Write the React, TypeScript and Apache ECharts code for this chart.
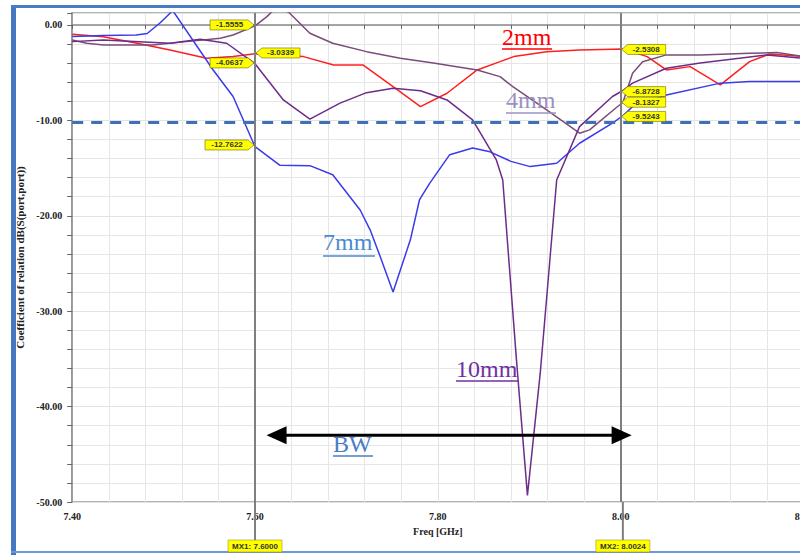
import React, { useEffect, useRef } from 'react';
import * as echarts from 'echarts';

// ---- axes ----
const X_MIN = 7.4;
const X_MAX = 8.2;
const Y_MIN = -50;
const Y_MAX = 1.25;
const THRESHOLD_DB = -10.2;
const MARKER_1 = 7.6;
const MARKER_2 = 8.0024;

// ---- 2mm ----
const FREQ_2MM = [7.4, 7.434, 7.471, 7.507, 7.547, 7.576, 7.6, 7.653, 7.686, 7.718, 7.751, 7.781, 7.81, 7.843, 7.868, 7.883, 7.919, 7.955, 8.0024, 8.029, 8.05, 8.076, 8.109, 8.141, 8.163, 8.2];
const DB_2MM = [-0.97, -1.23, -1.92, -2.62, -3.49, -3.32, -3.03, -3.32, -4.19, -4.19, -6.47, -8.56, -7.16, -4.72, -3.85, -3.32, -2.8, -2.62, -2.53, -3.32, -4.72, -4.37, -6.29, -3.85, -3.04, -3.32];

// ---- 4mm ----
const FREQ_4MM = [7.4, 7.416, 7.434, 7.488, 7.525, 7.562, 7.576, 7.6, 7.613, 7.625, 7.638, 7.66, 7.685, 7.722, 7.759, 7.795, 7.843, 7.868, 7.882, 7.919, 7.955, 7.966, 7.996, 8.0024, 8.013, 8.024, 8.05, 8.087, 8.141, 8.171, 8.2];
const DB_4MM = [-1.57, -1.92, -2.1, -2.1, -1.75, -1.39, -1.05, -0.1, 0.87, 2.0, 1.23, -0.87, -1.92, -2.8, -3.49, -4.0, -4.72, -5.42, -6.47, -8.91, -11.35, -11.0, -8.6, -8.13, -5.06, -3.85, -3.14, -3.14, -2.97, -2.9, -3.32];

// ---- 7mm ----
const FREQ_7MM = [7.4, 7.434, 7.47, 7.482, 7.496, 7.51, 7.554, 7.576, 7.6, 7.627, 7.66, 7.685, 7.715, 7.726, 7.737, 7.751, 7.77, 7.78, 7.791, 7.813, 7.838, 7.857, 7.88, 7.901, 7.93, 7.955, 7.991, 8.0024, 8.013, 8.05, 8.109, 8.141, 8.2];
const DB_7MM = [-1.2, -1.1, -1.05, -0.9, 0.2, 1.5, -4.7, -7.5, -12.76, -14.7, -14.75, -15.7, -19.4, -21.5, -24.3, -28.0, -22.5, -18.3, -16.6, -13.6, -12.9, -13.3, -14.3, -14.85, -14.5, -12.4, -10.3, -9.52, -8.56, -7.34, -6.1, -5.94, -5.94];

// ---- 10mm ----
const FREQ_10MM = [7.4, 7.434, 7.507, 7.54, 7.569, 7.6, 7.631, 7.66, 7.693, 7.722, 7.751, 7.781, 7.81, 7.838, 7.864, 7.871, 7.886, 7.898, 7.912, 7.93, 7.955, 7.991, 8.0024, 8.013, 8.05, 8.087, 8.16, 8.2];
const DB_10MM = [-1.75, -1.57, -1.92, -1.5, -1.92, -4.06, -7.86, -9.88, -8.2, -7.1, -6.64, -6.89, -7.86, -9.96, -14.15, -16.25, -35.1, -49.3, -36.5, -16.25, -10.66, -7.5, -6.87, -6.1, -4.54, -4.0, -3.14, -3.49];

// ---- marker tags: [freq, dB anchor, text, side] ----
const TAG_FREQ = [7.6, 7.6, 7.6, 7.6, 8.0, 8.0, 8.0, 8.0];
const TAG_DB = [0.0, -3.98, -12.58, -2.94, -2.57, -6.99, -8.1, -9.59];
const TAG_TEXT = ['-1.5555', '-4.0637', '-12.7622', '-3.0339', '-2.5308', '-6.8728', '-8.1327', '-9.5243'];
const TAG_SIDE = ['left', 'left', 'left', 'right', 'right', 'right', 'right', 'right'];
const MARKER_NAMES = ['MX1: 7.6000', 'MX2: 8.0024'];

// ---- curve names ----
const LABEL_TEXT = ['2mm', '4mm', '7mm', '10mm', 'BW'];
const BW_ARROW_FREQ = [7.6126, 8.012];
const BW_ARROW_DB = -43.0;

const C_2 = '#ff1f1f';
const C_4 = '#7a4c78';
const C_7 = '#3b3bea';
const C_10 = '#6e2c8a';

const zip = (xs: number[], ys: number[]) => xs.map((x, i) => [x, ys[i]]);

const SERIF = '"Liberation Serif", "Times New Roman", serif';

export default function App() {
  const ref = useRef<HTMLDivElement>(null);
  useEffect(() => {
    const chart = echarts.init(ref.current!, null, { renderer: 'svg' });
    const lineSeries = (name: string, xs: number[], ys: number[], color: string, extra: any = {}) => ({
      name,
      type: 'line',
      data: zip(xs, ys),
      showSymbol: false,
      symbol: 'none',
      lineStyle: { color, width: 1.5 },
      itemStyle: { color },
      clip: true,
      z: 3,
      ...extra,
    });
    chart.setOption({
      animation: false,
      backgroundColor: '#ffffff',
      grid: {
        left: 72.2,
        top: 13,
        width: 731.3,
        height: 489,
        containLabel: false,
        outerBoundsMode: 'none',
        show: true,
        borderColor: '#9a9a9a',
        borderWidth: 1.5,
        backgroundColor: 'transparent',
      },
      xAxis: {
        type: 'value',
        min: X_MIN,
        max: X_MAX,
        interval: 0.2,
        name: 'Freq [GHz]',
        nameLocation: 'middle',
        nameGap: 24,
        nameTextStyle: { fontFamily: SERIF, fontWeight: 'bold', fontSize: 10, color: '#222' },
        axisLine: { lineStyle: { color: '#8a8a8a', width: 1.5 } },
        axisTick: { show: true, length: 4, lineStyle: { color: '#666' } },
        minorTick: { show: true, splitNumber: 5, length: 4, lineStyle: { color: '#666' } },
        splitLine: { show: true, lineStyle: { color: '#e2e2e2', width: 1 } },
        minorSplitLine: { show: true, lineStyle: { color: '#e6e6e6', width: 1 } },
        axisLabel: {
          margin: 9,
          fontFamily: SERIF,
          fontWeight: 'bold',
          fontSize: 10,
          color: '#222',
          formatter: (v: number) => v.toFixed(2),
        },
      },
      yAxis: {
        type: 'value',
        min: Y_MIN,
        max: Y_MAX,
        interval: 10,
        name: 'Coefficient of relation dB(S(port,port))',
        nameLocation: 'middle',
        nameGap: 45,
        nameRotate: 90,
        nameTextStyle: { fontFamily: SERIF, fontWeight: 'bold', fontSize: 11, color: '#222' },
        axisLine: { show: true, lineStyle: { color: '#8a8a8a', width: 1.5 } },
        axisTick: { show: true, length: 5, lineStyle: { color: '#666' } },
        minorTick: { show: true, splitNumber: 5, length: 5, lineStyle: { color: '#666' } },
        splitLine: { show: true, lineStyle: { color: '#e2e2e2', width: 1 } },
        minorSplitLine: { show: true, lineStyle: { color: '#e6e6e6', width: 1 } },
        axisLabel: {
          margin: 10,
          fontFamily: SERIF,
          fontWeight: 'bold',
          fontSize: 10,
          color: '#222',
          formatter: (v: number) => (Math.abs(v % 10) < 1e-6 ? v.toFixed(2) : ''),
        },
      },
      series: [
        lineSeries('2mm', FREQ_2MM, DB_2MM, C_2),
        lineSeries('4mm', FREQ_4MM, DB_4MM, C_4),
        lineSeries('7mm', FREQ_7MM, DB_7MM, C_7),
        lineSeries('10mm', FREQ_10MM, DB_10MM, C_10, {
          markLine: {
            silent: true,
            symbol: 'none',
            label: { show: false },
            data: [
              { xAxis: MARKER_1, lineStyle: { color: '#7f7f7f', width: 2, type: 'solid' } },
              { xAxis: MARKER_2, lineStyle: { color: '#7f7f7f', width: 2, type: 'solid' } },
              { yAxis: THRESHOLD_DB, lineStyle: { color: '#3e70b8', width: 3, type: [11, 8] } },
            ],
          },
        }),
      ],
    });

    const px = (x: number, y: number) => chart.convertToPixel({ gridIndex: 0 }, [x, y]) as number[];
    const g: any[] = [];

    // outer frame
    g.push({ type: 'rect', shape: { x: 11, y: 5, width: 5, height: 550 }, style: { fill: '#4577c2' }, z: 10 });
    g.push({ type: 'rect', shape: { x: 11, y: 5, width: 789, height: 3 }, style: { fill: '#4a7cc4' }, z: 10 });
    g.push({ type: 'rect', shape: { x: 11, y: 551, width: 789, height: 2 }, style: { fill: '#6c9ad8' }, z: 10 });

    // marker extensions + bottom boxes
    [MARKER_1, MARKER_2].forEach((m, i) => {
      const [mx, by] = px(m, Y_MIN);
      g.push({ type: 'line', shape: { x1: mx, y1: by, x2: mx, y2: 540 }, style: { stroke: '#7f7f7f', lineWidth: 2 }, z: 10 });
      g.push({ type: 'rect', shape: { x: mx - 27, y: 540, width: 54, height: 12 }, style: { fill: '#ffff00', stroke: '#8a8a00', lineWidth: 0.5 }, z: 11 });
      g.push({
        type: 'text', x: mx, y: 546, z: 12,
        style: { text: MARKER_NAMES[i], fill: '#333', font: 'bold 8px "Liberation Sans", sans-serif', align: 'center', verticalAlign: 'middle', textAlign: 'center', textVerticalAlign: 'middle' },
      });
    });

    // tags
    TAG_TEXT.forEach((t, i) => {
      const [tx, ty] = px(TAG_FREQ[i], TAG_DB[i]);
      const w = t.length > 7 ? 50 : 45;
      const h = 10;
      let pts: number[][];
      let cx: number;
      if (TAG_SIDE[i] === 'left') {
        pts = [[tx - w, ty - h / 2], [tx - 7, ty - h / 2], [tx - 1, ty], [tx - 7, ty + h / 2], [tx - w, ty + h / 2]];
        cx = tx - w / 2 - 3;
      } else {
        pts = [[tx + 1, ty], [tx + 7, ty - h / 2], [tx + w, ty - h / 2], [tx + w, ty + h / 2], [tx + 7, ty + h / 2]];
        cx = tx + w / 2 + 3;
      }
      g.push({ type: 'polygon', shape: { points: pts }, style: { fill: '#ffff00', stroke: '#6a6a00', lineWidth: 0.6 }, z: 11 });
      g.push({
        type: 'text', x: cx, y: ty, z: 12,
        style: { text: t, fill: '#333', font: 'bold 8px "Liberation Sans", sans-serif', align: 'center', verticalAlign: 'middle', textAlign: 'center', textVerticalAlign: 'middle' },
      });
    });

    // curve labels with underlines (pixel layout)
    const labels = [
      { t: LABEL_TEXT[0], x: 502, base: 45, ul: 49, c: '#ff0000', w: 50 },
      { t: LABEL_TEXT[1], x: 506, base: 108, ul: 113, c: '#9c90c0', w: 50 },
      { t: LABEL_TEXT[2], x: 323, base: 250, ul: 256, c: '#4a8ad0', w: 52 },
      { t: LABEL_TEXT[3], x: 456, base: 377, ul: 381, c: '#7030a0', w: 62 },
      { t: LABEL_TEXT[4], x: 333, base: 452, ul: 456, c: '#4a7cc4', w: 40 },
    ];
    labels.forEach((l) => {
      g.push({
        type: 'text', x: l.x, y: l.base - 8, z: 12,
        style: { text: l.t, fill: l.c, font: `24px ${SERIF}`, align: 'left', verticalAlign: 'middle', textAlign: 'left', textVerticalAlign: 'middle' },
      });
      g.push({ type: 'line', shape: { x1: l.x, y1: l.ul, x2: l.x + l.w, y2: l.ul }, style: { stroke: l.c, lineWidth: 1.5 }, z: 12 });
    });

    // BW arrow
    const [ax1, ay] = px(BW_ARROW_FREQ[0], BW_ARROW_DB);
    const [ax2] = px(BW_ARROW_FREQ[1], BW_ARROW_DB);
    g.push({ type: 'line', shape: { x1: ax1 + 15, y1: ay, x2: ax2 - 15, y2: ay }, style: { stroke: '#000', lineWidth: 3 }, z: 12 });
    g.push({ type: 'polygon', shape: { points: [[ax1, ay], [ax1 + 20, ay - 9], [ax1 + 20, ay + 9]] }, style: { fill: '#000' }, z: 12 });
    g.push({ type: 'polygon', shape: { points: [[ax2, ay], [ax2 - 20, ay - 9], [ax2 - 20, ay + 9]] }, style: { fill: '#000' }, z: 12 });

    chart.setOption({ graphic: g });
    return () => chart.dispose();
  }, []);
  return <div ref={ref} style={{ position: 'absolute', left: 0, top: 0, width: 800, height: 555 }} />;
}
